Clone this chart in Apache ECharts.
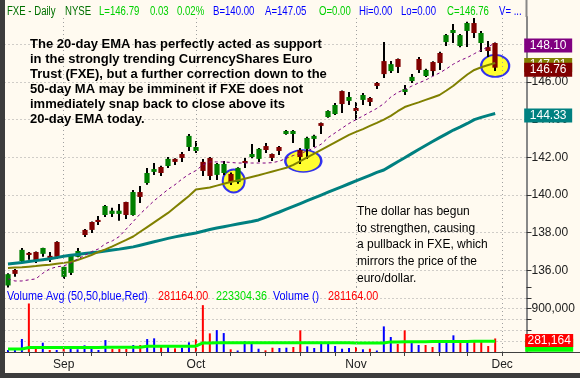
<!DOCTYPE html>
<html>
<head>
<meta charset="utf-8">
<title>FXE - Daily</title>
<script src="https://cdn.jsdelivr.net/npm/echarts@6/dist/echarts.min.js"></script>
<style>
  html, body { margin: 0; padding: 0; background: #FFFAF0; }
  #main { width: 580px; height: 378px; }
</style>
</head>
<body>
<div id="main"></div>
<script>
// trading days (last four are empty slots on the right edge)
const dates = [
  '2007-08-22','2007-08-23','2007-08-24','2007-08-27','2007-08-28','2007-08-29','2007-08-30','2007-08-31',
  '2007-09-04','2007-09-05','2007-09-06','2007-09-07','2007-09-10','2007-09-11','2007-09-12','2007-09-13',
  '2007-09-14','2007-09-17','2007-09-18','2007-09-19','2007-09-20','2007-09-21','2007-09-24','2007-09-25',
  '2007-09-26','2007-09-27','2007-09-28',
  '2007-10-01','2007-10-02','2007-10-03','2007-10-04','2007-10-05','2007-10-08','2007-10-09','2007-10-10',
  '2007-10-11','2007-10-12','2007-10-15','2007-10-16','2007-10-17','2007-10-18','2007-10-19','2007-10-22',
  '2007-10-23','2007-10-24','2007-10-25','2007-10-26','2007-10-29','2007-10-30','2007-10-31',
  '2007-11-01','2007-11-02','2007-11-05','2007-11-06','2007-11-07','2007-11-08','2007-11-09','2007-11-12',
  '2007-11-13','2007-11-14','2007-11-15','2007-11-16','2007-11-19','2007-11-20','2007-11-21','2007-11-23',
  '2007-11-26','2007-11-27','2007-11-28','2007-11-29','2007-11-30',
  '2007-12-03','2007-12-04','2007-12-05','2007-12-06'
];

const opens = [
  135.20,135.97,136.50,136.93,136.98,136.88,136.72,137.51,135.66,135.87,
  136.72,138.15,138.57,138.68,138.94,139.00,139.00,139.63,138.94,140.16,
  140.64,141.23,141.49,141.54,141.92,142.18,142.55,142.34,141.76,141.97,
  141.07,141.17,141.12,140.69,141.81,142.02,141.92,142.60,142.18,142.55,
  143.24,143.24,142.39,142.45,142.98,143.82,144.14,144.30,145.52,145.05,
  144.62,145.05,145.15,145.95,147.11,146.58,147.22,145.47,146.05,147.22,
  146.32,147.06,147.54,148.12,148.60,147.91,148.71,149.13,148.07,147.80,
  148.07
];
const highs = [
  135.85,136.08,137.19,136.98,137.00,137.20,136.98,137.55,136.20,136.80,
  137.19,138.20,138.60,138.89,139.47,139.32,139.53,139.65,140.27,140.48,
  141.44,141.70,141.55,142.02,141.95,142.29,143.24,142.87,141.92,142.02,
  141.70,141.81,141.20,141.48,141.97,142.71,142.50,142.76,142.20,142.60,
  143.45,143.45,142.50,143.10,143.20,143.85,144.50,144.89,145.55,145.47,
  144.94,145.42,145.20,146.00,148.12,147.11,147.25,145.84,146.42,147.33,
  146.70,147.10,147.60,148.55,149.08,148.55,149.20,149.40,148.71,148.18,
  148.10
];
const lows = [
  135.10,135.66,136.45,136.56,136.40,136.72,136.45,136.60,135.55,135.76,
  136.70,137.78,137.99,138.41,138.84,138.84,138.63,138.73,138.90,139.58,
  140.55,141.07,141.01,141.44,141.60,141.76,142.34,142.23,141.01,140.80,
  140.80,141.07,140.54,140.60,141.44,141.95,141.76,142.23,141.81,142.13,
  143.20,142.76,141.65,141.92,142.55,143.24,144.10,144.25,144.36,144.78,
  143.98,144.78,144.73,145.63,146.21,146.48,146.48,145.31,145.95,146.48,
  146.27,146.32,146.64,147.91,148.07,147.85,147.86,148.33,147.59,147.33,
  146.58
];
const closes = [
  135.80,135.87,137.09,136.82,136.50,137.19,136.68,136.72,136.19,136.77,
  137.03,137.88,138.15,138.57,139.42,139.17,139.17,138.94,140.16,139.90,
  141.17,141.38,141.17,141.92,141.76,141.97,143.14,142.55,141.28,141.01,
  141.65,141.65,140.69,141.44,141.70,142.18,142.45,142.39,141.97,142.34,
  143.40,143.40,142.02,143.03,143.14,143.67,144.46,144.78,144.83,145.15,
  144.46,145.31,144.94,145.79,146.42,146.95,146.80,145.63,146.27,146.64,
  146.64,146.58,147.01,148.49,148.76,148.49,149.13,148.60,148.60,147.70,
  146.76
];

// moving averages
const ma10 = [
  135.55,135.44,135.44,135.50,135.55,135.85,136.08,136.19,136.24,136.38,
  136.60,136.80,137.00,137.14,137.42,137.57,137.80,138.20,138.60,139.00,
  139.35,139.70,140.00,140.30,140.55,140.85,141.10,141.30,141.60,141.76,
  141.76,141.76,141.73,141.70,141.70,141.70,141.70,141.70,141.72,141.80,
  141.95,142.10,142.20,142.35,142.50,142.70,143.05,143.30,143.55,143.80,
  144.00,144.20,144.40,144.60,144.85,145.20,145.45,145.60,145.78,145.95,
  146.10,146.30,146.48,146.70,146.95,147.15,147.30,147.50,147.70,147.85,
  148.10
];
const ema20 = [
  136.13,136.15,136.17,136.20,136.23,136.27,136.30,136.35,136.40,136.45,
  136.55,136.68,136.82,136.98,137.12,137.28,137.45,137.62,137.80,138.05,
  138.30,138.55,138.80,139.05,139.35,139.65,139.95,140.30,140.35,140.40,
  140.50,140.60,140.69,140.78,140.87,140.96,141.05,141.15,141.25,141.35,
  141.45,141.60,141.80,142.00,142.20,142.40,142.60,142.80,143.00,143.19,
  143.35,143.50,143.67,143.83,144.00,144.20,144.45,144.67,144.80,144.92,
  145.05,145.18,145.31,145.55,145.80,146.11,146.40,146.64,146.78,146.90,
  147.01
];
const ma50 = [
  136.34,136.38,136.42,136.47,136.52,136.57,136.62,136.68,136.75,136.80,
  136.85,136.90,136.94,136.98,137.03,137.08,137.13,137.19,137.25,137.34,
  137.43,137.52,137.61,137.70,137.78,137.85,137.92,137.99,138.08,138.17,
  138.25,138.32,138.39,138.46,138.53,138.60,138.68,138.82,138.96,139.10,
  139.25,139.40,139.55,139.70,139.85,140.00,140.15,140.30,140.45,140.60,
  140.75,140.90,141.05,141.20,141.33,141.55,141.77,141.98,142.20,142.42,
  142.63,142.84,143.05,143.25,143.45,143.62,143.80,144.00,144.12,144.23,
  144.33
];

const volumes = [
  41000,41000,270000,1008000,124000,193000,41000,41000,110000,97000,
  56000,139000,110000,41000,248000,62000,62000,62000,145000,145000,
  269000,284000,124000,124000,77000,89000,201000,263000,973000,387000,
  455000,393000,56000,31000,221000,193000,68000,35000,89000,83000,
  89000,104000,449000,118000,83000,186000,172000,124000,68000,83000,
  104000,56000,68000,31000,532000,311000,166000,449000,186000,145000,
  145000,104000,221000,221000,346000,207000,242000,207000,242000,124000,
  281164
];
// 1 = up day (blue bar), 0 = down day (red bar)
const volUp = [
  1,1,1,0,0,1,0,1,0,1, 1,1,1,1,1,0,0,0,1,0,
  1,1,0,1,0,1,1,0,0,0, 1,1,0,1,1,1,1,0,0,1,
  1,0,0,1,1,1,1,1,1,1, 0,1,0,1,1,1,0,0,1,1,
  0,0,1,1,1,0,1,0,0,0, 0
];
const volAvg = [
  60000,60000,62000,92000,94000,95000,95000,95000,95000,95000,
  96000,96000,96000,96000,97000,97000,97000,97000,98000,98000,
  118000,118000,118000,118000,119000,119000,120000,121000,188000,189000,
  190000,190000,190000,190000,191000,191000,191000,191000,192000,192000,
  192000,192000,193000,193000,193000,193000,193000,193000,193000,193000,
  185000,185000,185000,186000,186000,210000,210000,212000,214000,214000,
  215000,216000,216000,218000,218000,219000,220000,221000,222000,222000,
  223304
];

// circled pullbacks to the 20-day EMA
const touchBars = [32, 42, 70];
const touchPrices = [140.75, 141.81, 146.85];

const monthNames = ['Jan','Feb','Mar','Apr','May','Jun','Jul','Aug','Sep','Oct','Nov','Dec'];
function monthOf(i) { return new Date(dates[i]).getUTCMonth(); }
function isMonthStart(i) { return i > 0 && monthOf(i) !== monthOf(i - 1); }
function isWeekStart(i) {
  return i > 0 && new Date(dates[i]).getUTCDay() < new Date(dates[i - 1]).getUTCDay();
}
const monthStarts = dates.filter((d, i) => isMonthStart(i));

const bg = '#FFFAF0';
const gridColor = '#A0A0A0';
const FONT = '"Liberation Sans", Arial, sans-serif';
const fmt = v => Math.round(v).toLocaleString('en-US');
const last = closes.length - 1;

const chart = echarts.init(document.getElementById('main'));

// coloured value box on the price axis for the last bar
function priceLabel(color, value, dy, z) {
  return {
    symbol: 'rect',
    symbolSize: [48, 14],
    symbolOffset: [53, dy],
    silent: true,
    z: z,
    itemStyle: { color: color },
    label: { show: true, position: 'inside', color: '#fff', fontSize: 12,
      fontFamily: FONT, formatter: () => value.toFixed(2) },
    data: [{ coord: [last, value] }]
  };
}

// header / legend pieces: [text, left, colour]
const headerParts = [
  ['FXE - Daily', 7, '#007000'], ['NYSE', 65, '#007000'],
  ['L=146.79', 99, '#00D000'], ['0.03', 150, '#00D000'], ['0.02%', 177, '#00D000'],
  ['B=140.00', 213, '#0000FF'], ['A=147.05', 265, '#0000FF'],
  ['O=0.00', 319, '#00D000'], ['Hi=0.00', 359, '#0000FF'], ['Lo=0.00', 401, '#0000FF'],
  ['C=146.76', 447, '#00D000'], ['V= ...', 499, '#0000FF']
];
const volLegend = [
  ['Volume Avg (50,50,blue,Red)', 7, '#0000FF'], ['281164.00', 158, '#FF0000'],
  ['223304.36', 216, '#00E000'], ['Volume ()', 273, '#0000FF'], ['281164.00', 328, '#FF0000']
];
function textRow(parts, y, sx) {
  return parts.map(p => ({
    type: 'text', x: p[1], y: y, scaleX: sx, z: 20, silent: true,
    style: { text: p[0], fill: p[2], font: '12px ' + FONT, verticalAlign: 'middle' }
  }));
}

const ellipseSizes = [[22, 23], [36, 22], [28, 22]];
const ellipseOffsets = [[3, 0], [3, 0], [0, 0]];

const option = {
  animation: false,
  backgroundColor: bg,
  grid: [
    { left: 4.5, right: 53.5, top: 17, height: 270 },
    { left: 4.5, right: 53.5, top: 287, height: 65 }
  ],
  xAxis: [
    {
      type: 'category', gridIndex: 0, data: dates, boundaryGap: true,
      axisLine: { show: false }, axisTick: { show: false }, axisLabel: { show: false },
      splitLine: { show: false }
    },
    {
      type: 'category', gridIndex: 1, data: dates, boundaryGap: true,
      axisLine: { show: true, lineStyle: { color: '#404040', width: 1 } },
      axisTick: { show: true, alignWithLabel: true, length: 4, interval: (i) => isWeekStart(i),
        lineStyle: { color: '#404040' } },
      axisLabel: {
        show: true, interval: (i) => isMonthStart(i), margin: 7,
        color: '#202020', fontSize: 12, fontFamily: FONT,
        formatter: (v) => monthNames[new Date(v).getUTCMonth()]
      },
      splitLine: { show: false }
    }
  ],
  yAxis: [
    {
      type: 'value', gridIndex: 0, position: 'right', min: 135.12, max: 149.45, splitNumber: 7,
      axisLine: { show: true, lineStyle: { color: '#888', width: 2 } },
      axisTick: { show: true, length: 5, lineStyle: { color: '#333' } },
      axisLabel: { show: true, margin: 5, color: '#202020', fontSize: 12,
        fontFamily: FONT, showMinLabel: false, showMaxLabel: false,
        formatter: v => v.toFixed(2) },
      splitLine: { show: true, showMinLine: false, showMaxLine: false,
        lineStyle: { color: gridColor, type: [1, 3] } }
    },
    {
      type: 'value', gridIndex: 1, position: 'right', min: 0, max: 1350000, interval: 225000,
      axisLine: { show: true, lineStyle: { color: '#888', width: 2 } },
      axisTick: { show: true, length: 5, lineStyle: { color: '#333' } },
      axisLabel: { show: true, margin: 5, color: '#202020', fontSize: 12, fontFamily: FONT,
        formatter: v => (v === 900000 ? fmt(v) : '') },
      splitLine: { show: true, showMinLine: false, showMaxLine: false,
        lineStyle: { color: gridColor, type: [1, 3] } }
    }
  ],
  series: [
    {
      // yellow circles + month grid lines
      type: 'scatter', xAxisIndex: 0, yAxisIndex: 0, z: 1, silent: true,
      data: touchBars.map((b, i) => ({
        value: [b, touchPrices[i]],
        symbolSize: ellipseSizes[i], symbolOffset: ellipseOffsets[i]
      })),
      symbol: 'circle',
      itemStyle: { color: '#FFFF00', borderColor: '#0000FF', borderWidth: 2 },
      markLine: {
        silent: true, symbol: 'none', label: { show: false },
        lineStyle: { color: gridColor, type: [1, 3], width: 1 },
        data: monthStarts.map(d => ({ xAxis: d }))
      }
    },
    {
      type: 'custom', xAxisIndex: 0, yAxisIndex: 0, z: 2, silent: true,
      data: opens.map((o, i) => [i, o, closes[i], lows[i], highs[i]]),
      encode: { x: 0, y: [1, 2, 3, 4] },
      renderItem: function (params, api) {
        const i = api.value(0);
        const o = api.value(1), c = api.value(2), l = api.value(3), h = api.value(4);
        const pH = api.coord([i, h]), pL = api.coord([i, l]);
        const pO = api.coord([i, o]), pC = api.coord([i, c]);
        const w = api.size([1, 0])[0] * 0.75;
        const x = Math.round(pH[0]);
        let y1 = Math.min(pO[1], pC[1]), y2 = Math.max(pO[1], pC[1]);
        if (y2 - y1 < 2) { y1 -= 1; y2 += 1; }
        return {
          type: 'group',
          children: [
            { type: 'line', shape: { x1: x, y1: pH[1], x2: x, y2: pL[1] },
              style: { stroke: '#000', lineWidth: 2 } },
            { type: 'rect', shape: { x: x - w / 2, y: y1, width: w, height: y2 - y1 },
              style: { fill: c >= o ? '#008000' : '#800000' } }
          ]
        };
      }
    },
    {
      name: 'MA50', type: 'line', xAxisIndex: 0, yAxisIndex: 0, z: 3, data: ma50,
      symbol: 'none', silent: true, lineStyle: { color: '#008080', width: 3 },
      markPoint: priceLabel('#008080', ma50[last], 2, 5)
    },
    {
      name: 'EMA20', type: 'line', xAxisIndex: 0, yAxisIndex: 0, z: 3, data: ema20,
      symbol: 'none', silent: true, lineStyle: { color: '#808000', width: 2 },
      markPoint: priceLabel('#808000', ema20[last], 2, 5)
    },
    {
      name: 'MA10', type: 'line', xAxisIndex: 0, yAxisIndex: 0, z: 3, data: ma10,
      symbol: 'none', silent: true, lineStyle: { color: '#800080', width: 1, type: [3, 3] },
      markPoint: priceLabel('#800080', ma10[last], 3, 6)
    },
    {
      name: 'Close', type: 'line', xAxisIndex: 0, yAxisIndex: 0, z: 4, data: [],
      symbol: 'none', silent: true,
      markPoint: priceLabel('#800000', closes[last], 2, 7)
    },
    {
      name: 'Volume', type: 'bar', xAxisIndex: 1, yAxisIndex: 1, barWidth: 2, silent: true,
      data: volumes.map((v, i) => ({ value: v, itemStyle: { color: volUp[i] ? '#0000FF' : '#FF0000' } })),
      markLine: {
        silent: true, symbol: 'none', label: { show: false },
        lineStyle: { color: gridColor, type: [1, 3], width: 1 },
        data: monthStarts.map(d => ({ xAxis: d }))
      },
      markPoint: {
        symbol: 'rect', symbolSize: [48, 13], symbolOffset: [54, 2], silent: true, z: 7,
        itemStyle: { color: '#FF0000' },
        label: { show: true, position: 'inside', color: '#fff', fontSize: 12,
          fontFamily: FONT, formatter: p => fmt(p.value) },
        data: [{ coord: [last, volumes[last]], value: volumes[last] }]
      }
    },
    {
      name: 'Volume Avg', type: 'line', xAxisIndex: 1, yAxisIndex: 1, data: volAvg,
      symbol: 'none', silent: true, lineStyle: { color: '#00FF00', width: 3 },
      markPoint: {
        symbol: 'rect', symbolSize: [48, 13], symbolOffset: [54, 4], silent: true, z: 5,
        itemStyle: { color: '#00FF00' }, label: { show: false },
        data: [{ coord: [last, volAvg[last]] }]
      }
    }
  ],
  graphic: [
    { type: 'rect', left: 0, top: 0, shape: { width: 5, height: 378 }, style: { fill: '#3C3C3C' }, z: 10 },
    { type: 'rect', left: 0, top: 373, shape: { width: 580, height: 5 }, style: { fill: '#3C3C3C' }, z: 10 },
    { type: 'line', shape: { x1: 526.5, y1: 0, x2: 526.5, y2: 17 }, style: { stroke: '#888', lineWidth: 2 } },
    { type: 'line', shape: { x1: 526, y1: 352.5, x2: 580, y2: 352.5 }, style: { stroke: '#404040', lineWidth: 1 } },
    {
      type: 'text', left: 30, top: 37, z: 20, silent: true,
      style: {
        text: 'The 20-day EMA has perfectly acted as support\nin the strongly trending CurrencyShares Euro\nTrust (FXE), but a further correction down to the\n50-day MA may be imminent if FXE does not\nimmediately snap back to close above its\n20-day EMA today.',
        fill: '#000', font: 'bold 13px ' + FONT, lineHeight: 15
      }
    },
    {
      type: 'text', left: 357, top: 203, z: 20, silent: true,
      style: {
        text: 'The dollar has begun\nto strengthen, causing\na pullback in FXE, which\nmirrors the price of the\neuro/dollar.',
        fill: '#000', font: '12px ' + FONT, lineHeight: 16.8
      }
    }
  ].concat(textRow(headerParts, 12, 0.8), textRow(volLegend, 297, 0.9))
};

chart.setOption(option);
</script>
</body>
</html>
